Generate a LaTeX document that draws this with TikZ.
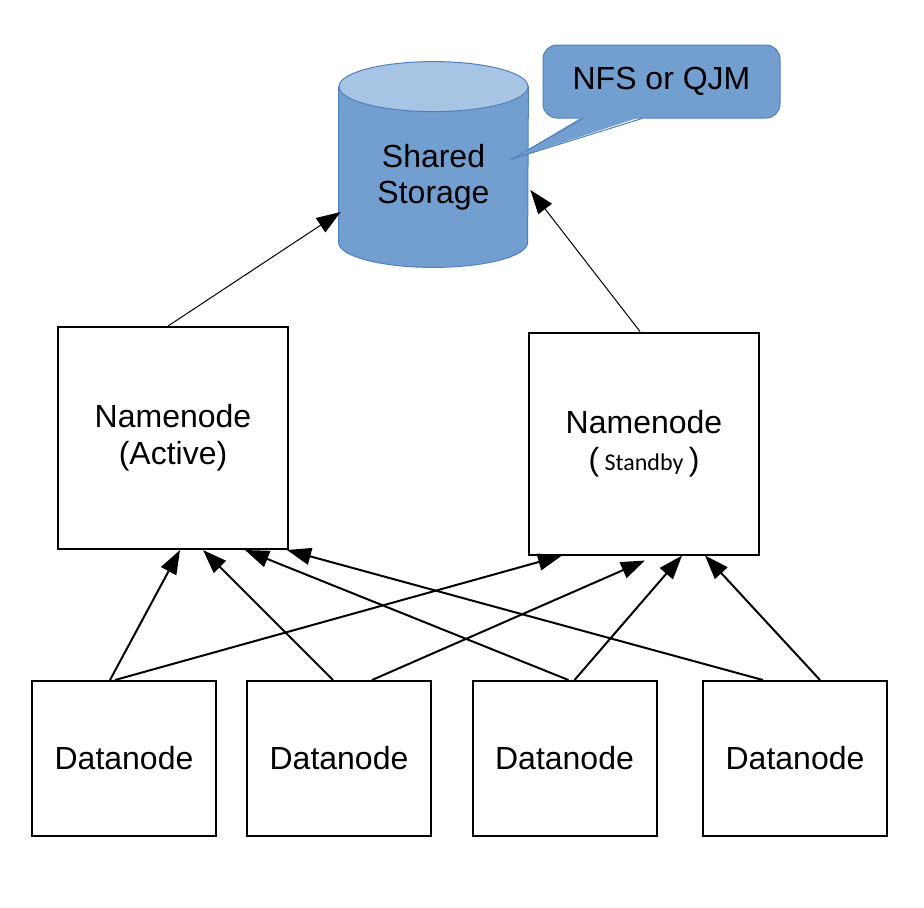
\documentclass[tikz,border=0pt]{standalone}
\usepackage{fontspec}
\setmainfont{Liberation Sans}
\newfontfamily\calibrifont{Carlito}
\usetikzlibrary{calc,arrows.meta}
\definecolor{storagefill}{HTML}{729FCF}
\definecolor{storagetop}{HTML}{A8C4E4}
\definecolor{storageline}{HTML}{4F7FBF}
\tikzset{
  namebox/.style={draw, line width=1pt, minimum width=115pt, minimum height=111pt, align=center, font=\fontsize{16}{18.5}\selectfont},
  databox/.style={draw, line width=1pt, minimum width=92pt, minimum height=77.5pt, font=\fontsize{16}{18.5}\selectfont},
  storagebox/.style={minimum width=94.5pt, minimum height=90pt, align=center, font=\fontsize{16}{18}\selectfont},
  calloutbox/.style={fill=storagefill, draw=storageline, line width=0.5pt, rounded corners=7pt, minimum width=118.5pt, minimum height=36.5pt, font=\fontsize{16}{18}\selectfont},
  dataarrow/.style={line width=1pt, -{Triangle[length=12pt,width=8.5pt]}},
  syncarrow/.style={line width=0.5pt, -{Triangle[length=12pt,width=8.5pt]}},
}
\begin{document}
\begin{tikzpicture}[x=0.5pt,y=-0.5pt]
  \useasboundingbox (0,0) rectangle (924,907);
  % shared storage
  \node[storagebox] (storage) at (433.5,177) {};
  \filldraw[fill=storagefill, draw=storageline, line width=0.5pt]
    (storage.north west) -- ([yshift=12.5pt]storage.south west)
    arc[start angle=180, end angle=360, x radius=47.25pt, y radius=12.5pt]
    -- (storage.north east) -- cycle;
  \filldraw[fill=storagetop, draw=storageline, line width=0.5pt]
    (storage.north) ellipse[x radius=47.25pt, y radius=12.5pt];
  \node[storagebox] (storagetext) at (storage.center) {Shared\\Storage};
  % callout
  \node[calloutbox] (nfs) at (661.5,81.5) {NFS or QJM};
  \coordinate (nfstip) at (512,159);
  \fill[storagefill] ([xshift=-39.25pt,yshift=1pt]nfs.south) -- (nfstip) -- ([xshift=-9.75pt,yshift=1pt]nfs.south) -- cycle;
  \draw[storageline, line width=0.5pt] ([xshift=-39.25pt]nfs.south) -- (nfstip) -- ([xshift=-9.75pt]nfs.south);
  % namenodes
  \node[namebox] (active) at (173,438) {Namenode\\(Active)};
  \node[namebox] (standby) at (644,443.5) {Namenode\\({\calibrifont\fontsize{12}{14}\selectfont\ Standby\ })};
  \draw[syncarrow] ($(active.north)+(-5,0)$) -- ($(storage.west)+(2,35)$);
  \draw[syncarrow] ($(standby.north)+(-4,0)$) -- ($(storage.east)+(2,13)$);
  % datanodes
  \foreach \n/\x in {1/124,2/339,3/564.5,4/795}
    \node[databox] (dn\n) at (\x,758.5) {Datanode};
  \foreach \s/\sx/\t/\tx/\ty in {dn1/-14/active/7/0, dn1/-9/standby/-82/0,
      dn2/-6/active/30/0, dn2/33/standby/1/5, dn3/4/active/72/0,
      dn3/10/standby/38/0, dn4/-32/active/114/0, dn4/25/standby/61/0}
    \draw[dataarrow] ($(\s.north)+(\sx,0)$) -- ($(\t.south)+(\tx,\ty)$);
\end{tikzpicture}
\end{document}
